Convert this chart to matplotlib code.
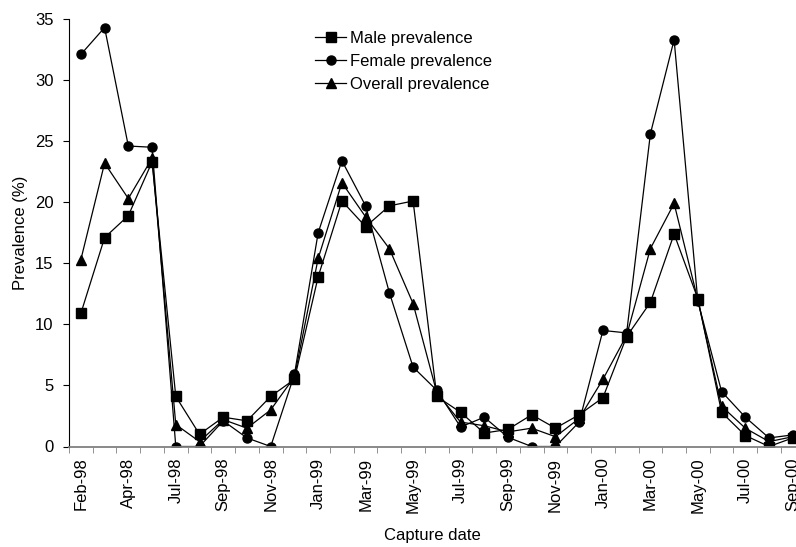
import numpy as np
import matplotlib
matplotlib.use("Agg")
import matplotlib.pyplot as plt

plt.rcParams['font.family'] = ['Liberation Sans', 'DejaVu Sans']

# capture dates (one category per sampling)
dates = ["Feb-98", "Mar-98", "Apr-98", "May-98", "Jul-98", "Aug-98", "Sep-98", "Oct-98",
         "Nov-98", "Dec-98", "Jan-99", "Feb-99", "Mar-99", "Apr-99", "May-99", "Jun-99",
         "Jul-99", "Aug-99", "Sep-99", "Oct-99", "Nov-99", "Dec-99", "Jan-00", "Feb-00",
         "Mar-00", "Apr-00", "May-00", "Jun-00", "Jul-00", "Aug-00", "Sep-00"]

male = [10.9, 17.1, 18.9, 23.3, 4.1, 1.0, 2.4, 2.1, 4.1, 5.5, 13.9, 20.1, 18.0, 19.7, 20.1,
        4.1, 2.8, 1.1, 1.4, 2.6, 1.5, 2.6, 4.0, 9.0, 11.8, 17.4, 12.1, 2.8, 0.9, 0.0, 0.7]
female = [32.1, 34.3, 24.6, 24.5, 0.0, 0.0, 2.1, 0.7, 0.0, 5.9, 17.5, 23.4, 19.7, 12.6, 6.5,
          4.6, 1.6, 2.4, 0.75, 0.0, 0.0, 2.0, 9.5, 9.3, 25.6, 33.3, 11.9, 4.5, 2.4, 0.7, 0.95]
overall = [15.3, 23.2, 20.3, 23.6, 1.8, 0.4, 2.2, 1.5, 3.0, 5.7, 15.4, 21.6, 18.8, 16.2, 11.7,
           4.4, 2.0, 1.7, 1.2, 1.5, 0.8, 2.3, 5.5, 9.1, 16.2, 19.9, 12.0, 3.3, 1.5, 0.4, 0.8]

x = np.arange(len(dates))

fig = plt.figure(figsize=(7.96, 5.47), dpi=100)
ax = fig.add_axes([69 / 796, 1 - 446.5 / 547, 727 / 796, 427.5 / 547])

style = dict(color="black", linewidth=0.9, markersize=6.5)
ax.plot(x, male, marker="s", label="Male prevalence", **style)
ax.plot(x, female, marker="o", label="Female prevalence", **style)
ax.plot(x, overall, marker="^", label="Overall prevalence", **style)

ax.set_yticks(np.arange(0, 36, 5))

# labels on every other date, tick marks between categories
ax.set_xticks(x[::2])
ax.set_xticklabels(dates[::2], rotation=90)
ax.set_xticks(np.arange(-0.5, len(dates), 1), minor=True)
# set limits after the ticks, otherwise set_xticks widens the view
ax.set_ylim(0, 35)
ax.set_xlim(-0.5, -0.5 + 727 / 23.73)

ax.tick_params(axis="x", which="major", length=0, labelsize=12, pad=8)
ax.tick_params(axis="x", which="minor", length=4, direction="out", color="#808080")
ax.tick_params(axis="y", length=4, direction="out", labelsize=12, pad=7)

ax.spines["top"].set_visible(False)
ax.spines["right"].set_visible(False)
ax.spines["bottom"].set_color("#808080")
ax.spines["bottom"].set_linewidth(1.3)

ax.set_xlabel("Capture date", fontsize=12)
ax.set_ylabel("Prevalence (%)", fontsize=12)
ax.yaxis.set_label_coords(-0.056, 0.5)
ax.xaxis.set_label_coords(0.5, -0.19)

ax.legend(loc="upper left", bbox_to_anchor=(0.338, 0.973), frameon=False, fontsize=12,
          handlelength=1.9, handletextpad=0.2, labelspacing=0.5,
          borderpad=0, borderaxespad=0)

fig.savefig("out.png", dpi=100)
